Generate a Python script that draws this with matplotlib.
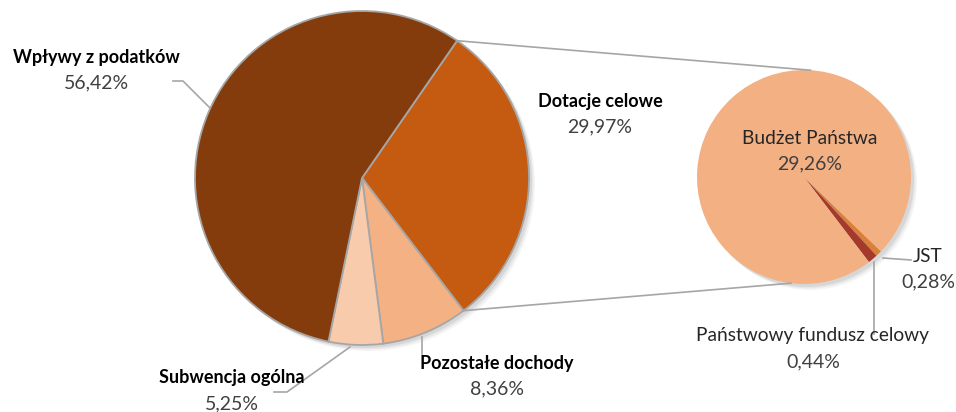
import matplotlib
matplotlib.use("Agg")
import matplotlib.pyplot as plt
import numpy as np
from matplotlib.patches import Circle

plt.rcParams['font.family'] = ['Lato', 'DejaVu Sans']

# Main pie data (udział w dochodach)
main_labels = ["Dotacje celowe", "Pozostałe dochody", "Subwencja ogólna", "Wpływy z podatków"]
main_values = [29.97, 8.36, 5.25, 56.42]
main_colors = ["#C55A11", "#F4B183", "#F8CBAD", "#843C0C"]

# Secondary pie: breakdown of "Dotacje celowe"
sub_labels = ["JST", "Państwowy fundusz celowy", "Budżet Państwa"]
sub_values = [0.28, 0.44, 29.26]
sub_colors = ["#D9803A", "#A33A2C", "#F3B083"]

H = 412
fig = plt.figure(figsize=(9.56, 4.12), dpi=100)
ax = fig.add_axes([0, 0, 1, 1])

main_c, main_r = (362, H - 178), 167
sub_c, sub_r = (804, H - 177), 107
start = 55.3

# soft shadows behind both pies
for (cx, cy), r in [(main_c, main_r), (sub_c, sub_r)]:
    for k, a in [(6, 0.07), (4.5, 0.1), (3, 0.16)]:
        ax.add_patch(Circle((cx + k, cy - k), r, color="#7f7f7f", alpha=a, lw=0, zorder=0))

wedges, _ = ax.pie(main_values, colors=main_colors, startangle=start, counterclock=False,
                   center=main_c, radius=main_r, explode=[0.025, 0, 0, 0],
                   wedgeprops=dict(edgecolor="#A6A6A6", linewidth=1.3), frame=True)
sub_start = -44
ax.pie(sub_values, colors=sub_colors, startangle=sub_start, counterclock=False,
       center=sub_c, radius=sub_r, wedgeprops=dict(edgecolor="none"), frame=True)
ax.set_xlim(0, 956)
ax.set_ylim(0, H)
ax.set_aspect("equal")
ax.axis("off")

# connector lines between the "Dotacje celowe" wedge and the secondary pie
w = wedges[0]
wc = w.center
for th_main, th_sub in [(w.theta2, 86.5), (w.theta1, -97)]:
    p1 = (wc[0] + main_r * np.cos(np.radians(th_main)), wc[1] + main_r * np.sin(np.radians(th_main)))
    p2 = (sub_c[0] + sub_r * np.cos(np.radians(th_sub)), sub_c[1] + sub_r * np.sin(np.radians(th_sub)))
    ax.plot([p1[0], p2[0]], [p1[1], p2[1]], color="#A6A6A6", lw=1.2, zorder=1)

# leader lines (image pixel coordinates)
leaders = [
    [(173, 81), (183, 81), (210, 108)],
    [(422, 337), (422, 354)],
    [(350, 347), (287, 392), (274, 392)],
    [(883, 258), (911, 260)],
    [(874, 262), (874, 334)],
]
for pts in leaders:
    xs = [p[0] for p in pts]
    ys = [H - p[1] for p in pts]
    ax.plot(xs, ys, color="#A6A6A6", lw=1.2, zorder=1)

# labels: name -> (x, y of name, bold)
label_pos = {
    "Wpływy z podatków": (96, 57, True),
    "Dotacje celowe": (600, 101, True),
    "Pozostałe dochody": (497, 363, True),
    "Subwencja ogólna": (232, 378, True),
    "Budżet Państwa": (810, 138, False),
    "JST": (928, 256, False),
    "Państwowy fundusz celowy": (813, 336, False),
}
all_labels = main_labels + sub_labels
all_values = main_values + sub_values
for name, val in zip(all_labels, all_values):
    x, y, bold = label_pos[name]
    ax.text(x, H - y, name, ha="center", va="center", fontsize=13 if bold else 13.8,
            fontweight="bold" if bold else 400, color="#000000" if bold else "#262626", zorder=5)
    ax.text(x, H - y - 26, f"{val:.2f}%".replace(".", ","), ha="center", va="center",
            fontsize=14, fontweight=400, color="#404040", zorder=5)

fig.savefig("out.png", dpi=100)
